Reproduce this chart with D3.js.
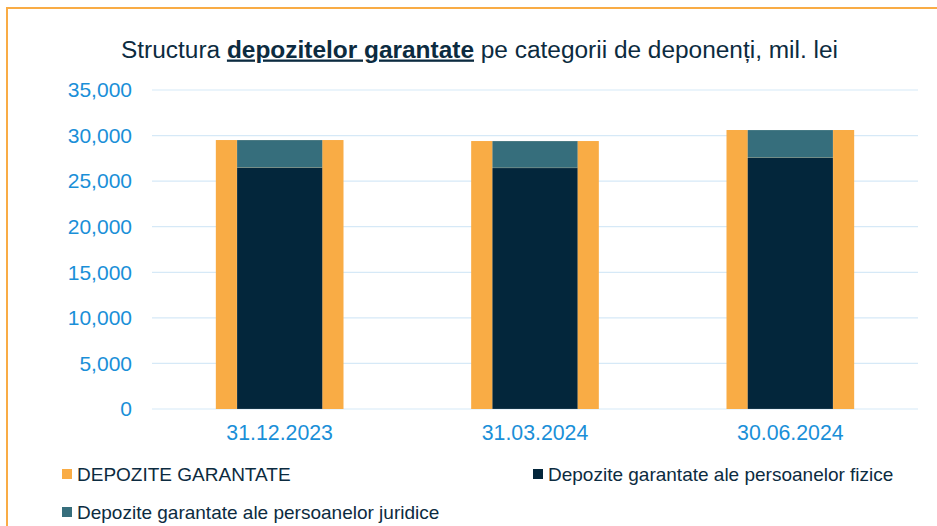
<!DOCTYPE html>
<html>
<head>
<meta charset="utf-8">
<script src="https://cdn.jsdelivr.net/npm/d3@7"></script>
<style>
  body { margin: 0; background: #fff; }
  svg { display: block; font-family: "Liberation Sans", Arial, sans-serif; }
</style>
</head>
<body>
<svg width="937" height="526"></svg>
<script>
const dates = ['31.12.2023', '31.03.2024', '30.06.2024'];
const totalGarantate = [29510, 29400, 30610];
const fizice = [26480, 26460, 27570];
const juridice = [3030, 2940, 3040];
const yTicks = [0, 5000, 10000, 15000, 20000, 25000, 30000, 35000];

const orange = '#F9AC45';
const navy = '#03263B';
const teal = '#366E7C';
const blue = '#1A8FD8';
const ink = '#0C2B40';

const svg = d3.select('svg');

// orange frame, runs off the right and bottom edges
svg.append('rect')
  .attr('x', 7).attr('y', 8)
  .attr('width', 960).attr('height', 560)
  .attr('fill', 'none')
  .attr('stroke', orange)
  .attr('stroke-width', 2);

// title
const title = svg.append('text')
  .attr('x', 121).attr('y', 57.5)
  .attr('textLength', 717)
  .attr('lengthAdjust', 'spacingAndGlyphs')
  .attr('fill', ink)
  .style('font-size', '23px');
title.append('tspan').text('Structura ');
title.append('tspan')
  .attr('font-weight', 'bold')
  .style('text-decoration', 'underline')
  .text('depozitelor garantate');
title.append('tspan').text(' pe categorii de deponenți, mil. lei');

const x = d3.scaleBand()
  .domain(dates)
  .range([152, 918]);

const y = d3.scaleLinear()
  .domain([0, 35000])
  .range([409, 90]);

// gridlines
svg.append('g')
  .selectAll('line')
  .data(yTicks)
  .join('line')
  .attr('x1', 152).attr('x2', 918)
  .attr('y1', d => y(d)).attr('y2', d => y(d))
  .attr('stroke', '#D6E9F7')
  .attr('stroke-width', 1.2);

// y axis labels
const yAxis = svg.append('g')
  .attr('transform', 'translate(142,0)')
  .call(d3.axisLeft(y).tickValues(yTicks).tickFormat(d3.format(',')).tickSize(0).tickPadding(10));
yAxis.select('.domain').remove();
yAxis.selectAll('text')
  .attr('fill', blue)
  .style('font-size', '21px')
  .style('font-family', '"Liberation Sans", Arial, sans-serif');

// x axis labels
const xAxis = svg.append('g')
  .attr('transform', 'translate(0,409)')
  .call(d3.axisBottom(x).tickSize(0).tickPadding(16));
xAxis.select('.domain').remove();
xAxis.selectAll('text')
  .attr('fill', blue)
  .style('font-size', '21.3px')
  .style('font-family', '"Liberation Sans", Arial, sans-serif');

const step = x.bandwidth();
const wideW = step * 0.5;
const thinW = step * 0.334;

// wide orange bars (total guaranteed deposits)
svg.append('g')
  .selectAll('rect')
  .data(dates)
  .join('rect')
  .attr('x', d => x(d) + (step - wideW) / 2)
  .attr('width', wideW)
  .attr('y', (d, i) => y(totalGarantate[i]))
  .attr('height', (d, i) => y(0) - y(totalGarantate[i]))
  .attr('fill', orange);

// stacked narrow bars
const stackData = dates.map((d, i) => ({ date: d, fizice: fizice[i], juridice: juridice[i] }));
const series = d3.stack().keys(['fizice', 'juridice'])(stackData);
const stackColor = { fizice: navy, juridice: teal };

svg.append('g')
  .selectAll('g')
  .data(series)
  .join('g')
  .attr('fill', s => stackColor[s.key])
  .selectAll('rect')
  .data(s => s)
  .join('rect')
  .attr('x', d => x(d.data.date) + (step - thinW) / 2)
  .attr('width', thinW)
  .attr('y', d => y(d[1]))
  .attr('height', d => y(d[0]) - y(d[1]))
  .attr('stroke', 'rgba(255,255,255,0.25)')
  .attr('stroke-width', 0.6);

// legend
const legendItems = [
  { label: 'DEPOZITE GARANTATE', color: orange, x: 62, y: 474 },
  { label: 'Depozite garantate ale persoanelor fizice', color: navy, x: 533, y: 474 },
  { label: 'Depozite garantate ale persoanelor juridice', color: teal, x: 62, y: 512 },
];
const legend = svg.append('g')
  .selectAll('g')
  .data(legendItems)
  .join('g')
  .attr('transform', d => `translate(${d.x},${d.y})`);
legend.append('rect')
  .attr('x', 0).attr('y', -5)
  .attr('width', 10).attr('height', 10)
  .attr('fill', d => d.color);
legend.append('text')
  .attr('x', 15).attr('y', 6.5)
  .attr('fill', ink)
  .style('font-size', '19px')
  .text(d => d.label);
</script>
</body>
</html>
